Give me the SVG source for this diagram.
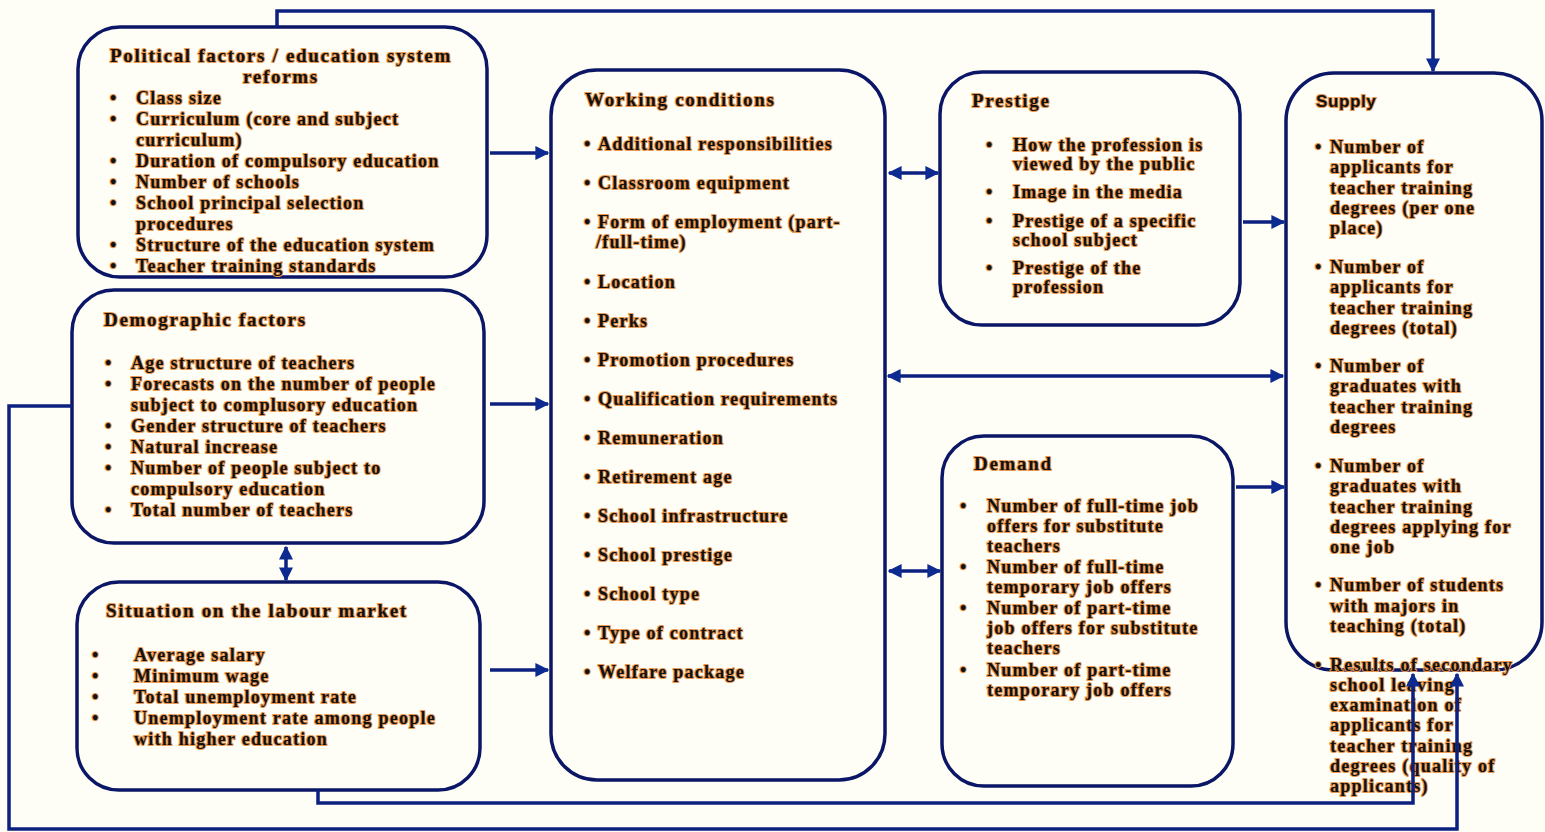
<svg xmlns="http://www.w3.org/2000/svg" width="1545" height="832" viewBox="0 0 1545 832">
<defs>
<style>
.bg{fill:#fffef6}
.box{fill:#fffef6;stroke:#0b1766;stroke-width:3.5}
.t{font-family:"Liberation Serif","Times New Roman",serif;font-weight:bold;font-size:18px;letter-spacing:1.25px;fill:#111;stroke:#e9974f;stroke-width:2.2;paint-order:stroke;stroke-linejoin:round}
.h{font-size:19px;letter-spacing:1.7px}
.s{font-family:"Liberation Sans",Arial,sans-serif;font-weight:bold;font-size:17px;letter-spacing:0.6px;fill:#111;stroke:#e9974f;stroke-width:2.2;paint-order:stroke}
.c{fill:none;stroke:#0c2080;stroke-width:3.5}
</style>
<marker id="ah" viewBox="0 0 10 10" refX="9" refY="5" markerWidth="4" markerHeight="4" orient="auto-start-reverse" markerUnits="strokeWidth">
<path d="M0,0 L10,5 L0,10 z" fill="#0c2a90"/>
</marker>
</defs>
<rect class="bg" x="0" y="0" width="1545" height="832"/>

<g id="political">
<rect class="box" x="78" y="27" width="409" height="250" rx="42"/>
<text class="t h" x="281" y="62" text-anchor="middle">Political factors / education system</text>
<text class="t h" x="281" y="83" text-anchor="middle">reforms</text>
<text class="t" x="110" y="104">•</text><text class="t" x="136" y="104">Class size</text>
<text class="t" x="110" y="125">•</text><text class="t" x="136" y="125">Curriculum (core and subject</text>
<text class="t" x="136" y="146">curriculum)</text>
<text class="t" x="110" y="167">•</text><text class="t" x="136" y="167">Duration of compulsory education</text>
<text class="t" x="110" y="188">•</text><text class="t" x="136" y="188">Number of schools</text>
<text class="t" x="110" y="209">•</text><text class="t" x="136" y="209">School principal selection</text>
<text class="t" x="136" y="230">procedures</text>
<text class="t" x="110" y="251">•</text><text class="t" x="136" y="251">Structure of the education system</text>
<text class="t" x="110" y="272">•</text><text class="t" x="136" y="272">Teacher training standards</text>
</g>

<g id="demographic">
<rect class="box" x="72" y="290" width="412" height="253" rx="42"/>
<text class="t h" x="104" y="326">Demographic factors</text>
<text class="t" x="105" y="369">•</text><text class="t" x="131" y="369">Age structure of teachers</text>
<text class="t" x="105" y="390">•</text><text class="t" x="131" y="390">Forecasts on the number of people</text>
<text class="t" x="131" y="411">subject to complusory education</text>
<text class="t" x="105" y="432">•</text><text class="t" x="131" y="432">Gender structure of teachers</text>
<text class="t" x="105" y="453">•</text><text class="t" x="131" y="453">Natural increase</text>
<text class="t" x="105" y="474">•</text><text class="t" x="131" y="474">Number of people subject to</text>
<text class="t" x="131" y="495">compulsory education</text>
<text class="t" x="105" y="516">•</text><text class="t" x="131" y="516">Total number of teachers</text>
</g>

<g id="labour">
<rect class="box" x="77" y="582" width="403" height="208" rx="42"/>
<text class="t h" x="106" y="617">Situation on the labour market</text>
<text class="t" x="92" y="661">•</text><text class="t" x="134" y="661">Average salary</text>
<text class="t" x="92" y="682">•</text><text class="t" x="134" y="682">Minimum wage</text>
<text class="t" x="92" y="703">•</text><text class="t" x="134" y="703">Total unemployment rate</text>
<text class="t" x="92" y="724">•</text><text class="t" x="134" y="724">Unemployment rate among people</text>
<text class="t" x="134" y="745">with higher education</text>
</g>

<g id="working">
<rect class="box" x="551" y="70" width="334" height="710" rx="46"/>
<text class="t h" x="585" y="106">Working conditions</text>
<text class="t" x="584" y="150">•</text><text class="t" x="598" y="150">Additional responsibilities</text>
<text class="t" x="584" y="189">•</text><text class="t" x="598" y="189">Classroom equipment</text>
<text class="t" x="584" y="228">•</text><text class="t" x="598" y="228">Form of employment (part-</text>
<text class="t" x="596" y="248">/full-time)</text>
<text class="t" x="584" y="288">•</text><text class="t" x="598" y="288">Location</text>
<text class="t" x="584" y="327">•</text><text class="t" x="598" y="327">Perks</text>
<text class="t" x="584" y="366">•</text><text class="t" x="598" y="366">Promotion procedures</text>
<text class="t" x="584" y="405">•</text><text class="t" x="598" y="405">Qualification requirements</text>
<text class="t" x="584" y="444">•</text><text class="t" x="598" y="444">Remuneration</text>
<text class="t" x="584" y="483">•</text><text class="t" x="598" y="483">Retirement age</text>
<text class="t" x="584" y="522">•</text><text class="t" x="598" y="522">School infrastructure</text>
<text class="t" x="584" y="561">•</text><text class="t" x="598" y="561">School prestige</text>
<text class="t" x="584" y="600">•</text><text class="t" x="598" y="600">School type</text>
<text class="t" x="584" y="639">•</text><text class="t" x="598" y="639">Type of contract</text>
<text class="t" x="584" y="678">•</text><text class="t" x="598" y="678">Welfare package</text>
</g>

<g id="prestige">
<rect class="box" x="940" y="72" width="300" height="253" rx="42"/>
<text class="t h" x="972" y="107">Prestige</text>
<text class="t" x="986" y="151">•</text><text class="t" x="1013" y="151">How the profession is</text>
<text class="t" x="1013" y="170">viewed by the public</text>
<text class="t" x="986" y="198">•</text><text class="t" x="1013" y="198">Image in the media</text>
<text class="t" x="986" y="227">•</text><text class="t" x="1013" y="227">Prestige of a specific</text>
<text class="t" x="1013" y="246">school subject</text>
<text class="t" x="986" y="274">•</text><text class="t" x="1013" y="274">Prestige of the</text>
<text class="t" x="1013" y="293">profession</text>
</g>

<g id="demand">
<rect class="box" x="942" y="436" width="291" height="350" rx="42"/>
<text class="t h" x="974" y="470">Demand</text>
<text class="t" x="960" y="512">•</text><text class="t" x="987" y="512">Number of full-time job</text>
<text class="t" x="987" y="532">offers for substitute</text>
<text class="t" x="987" y="552">teachers</text>
<text class="t" x="960" y="573">•</text><text class="t" x="987" y="573">Number of full-time</text>
<text class="t" x="987" y="593">temporary job offers</text>
<text class="t" x="960" y="614">•</text><text class="t" x="987" y="614">Number of part-time</text>
<text class="t" x="987" y="634">job offers for substitute</text>
<text class="t" x="987" y="654">teachers</text>
<text class="t" x="960" y="676">•</text><text class="t" x="987" y="676">Number of part-time</text>
<text class="t" x="987" y="696">temporary job offers</text>
</g>

<g id="supply">
<rect class="box" x="1286" y="73" width="256" height="597" rx="48"/>
<text class="s" x="1316" y="107">Supply</text>
<text class="t" x="1315" y="153">•</text><text class="t" x="1330" y="153">Number of</text>
<text class="t" x="1330" y="173">applicants for</text>
<text class="t" x="1330" y="194">teacher training</text>
<text class="t" x="1330" y="214">degrees (per one</text>
<text class="t" x="1330" y="234">place)</text>
<text class="t" x="1315" y="273">•</text><text class="t" x="1330" y="273">Number of</text>
<text class="t" x="1330" y="293">applicants for</text>
<text class="t" x="1330" y="314">teacher training</text>
<text class="t" x="1330" y="334">degrees (total)</text>
<text class="t" x="1315" y="372">•</text><text class="t" x="1330" y="372">Number of</text>
<text class="t" x="1330" y="392">graduates with</text>
<text class="t" x="1330" y="413">teacher training</text>
<text class="t" x="1330" y="433">degrees</text>
<text class="t" x="1315" y="472">•</text><text class="t" x="1330" y="472">Number of</text>
<text class="t" x="1330" y="492">graduates with</text>
<text class="t" x="1330" y="513">teacher training</text>
<text class="t" x="1330" y="533">degrees applying for</text>
<text class="t" x="1330" y="553">one job</text>
<text class="t" x="1315" y="591">•</text><text class="t" x="1330" y="591">Number of students</text>
<text class="t" x="1330" y="612">with majors in</text>
<text class="t" x="1330" y="632">teaching (total)</text>
<text class="t" x="1315" y="671">•</text><text class="t" x="1330" y="671">Results of secondary</text>
<text class="t" x="1330" y="691">school leaving</text>
<text class="t" x="1330" y="711">examination of</text>
<text class="t" x="1330" y="731">applicants for</text>
<text class="t" x="1330" y="752">teacher training</text>
<text class="t" x="1330" y="772">degrees (quality of</text>
<text class="t" x="1330" y="792">applicants)</text>
</g>

<g id="connectors">
<line class="c" x1="490" y1="153" x2="548" y2="153" marker-end="url(#ah)"/>
<line class="c" x1="490" y1="404" x2="548" y2="404" marker-end="url(#ah)"/>
<line class="c" x1="490" y1="670" x2="548" y2="670" marker-end="url(#ah)"/>
<line class="c" x1="286" y1="547" x2="286" y2="580" marker-start="url(#ah)" marker-end="url(#ah)"/>
<line class="c" x1="889" y1="173" x2="938" y2="173" marker-start="url(#ah)" marker-end="url(#ah)"/>
<line class="c" x1="889" y1="571" x2="940" y2="571" marker-start="url(#ah)" marker-end="url(#ah)"/>
<line class="c" x1="888" y1="376" x2="1283" y2="376" marker-start="url(#ah)" marker-end="url(#ah)"/>
<line class="c" x1="1243" y1="222" x2="1284" y2="222" marker-end="url(#ah)"/>
<line class="c" x1="1236" y1="487" x2="1284" y2="487" marker-end="url(#ah)"/>
<polyline class="c" points="277,27 277,11 1433,11 1433,71" marker-end="url(#ah)"/>
<polyline class="c" points="72,406 9,406 9,829 1457,829 1457,674" marker-end="url(#ah)"/>
<polyline class="c" points="318,790 318,803 1413,803 1413,674" marker-end="url(#ah)"/>
</g>
</svg>
